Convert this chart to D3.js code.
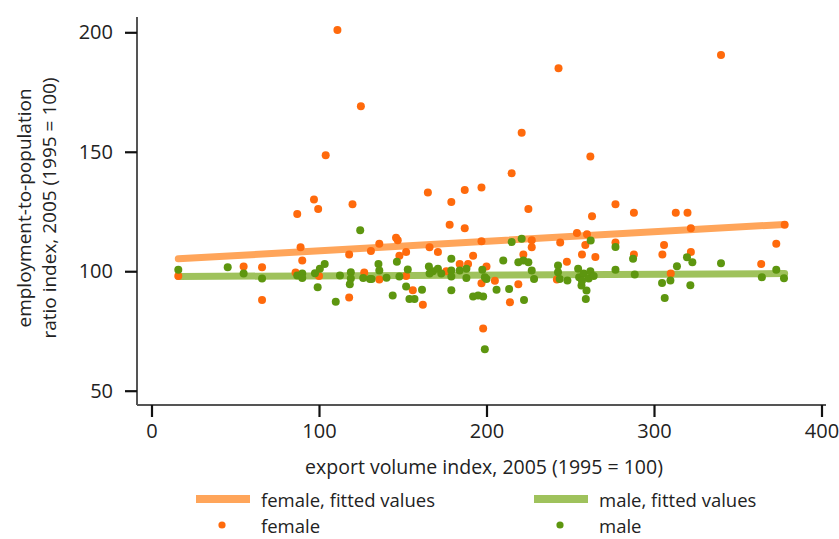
<!DOCTYPE html>
<html>
<head>
<meta charset="utf-8">
<script src="https://cdn.jsdelivr.net/npm/d3@7"></script>
<style>
  body { margin: 0; background: #fff; }
  svg text { font-family: "Open Sans", sans-serif; fill: #222; }
</style>
</head>
<body>
<div id="plot"></div>
<script>
// export volume index (x) vs employment-to-population ratio index (y)
const femaleX = [111, 125, 104, 243, 340, 221, 262, 215, 165, 187, 197, 179, 178, 187, 225, 263, 277, 288, 313, 320,
                 322, 378, 373, 364, 306, 305, 322, 310, 288, 277, 254, 260, 259, 257, 265, 244, 248, 242, 227, 227,
                 222, 219, 214, 198, 205, 192, 200, 197, 189, 184, 197, 171, 166, 152, 148, 147, 146, 136, 131, 136,
                 152, 156, 162, 176, 16, 55, 66, 66, 87, 97, 99.5, 120, 89, 90, 86, 118, 118, 127, 100];
const femaleY = [201, 169, 148.5, 185, 190.5, 158, 148, 141, 133, 134, 135, 129, 119.5, 118, 126, 123, 128, 124.5, 124.5, 124.5,
                 118, 119.5, 111.5, 103, 111, 107, 108, 99, 107, 112, 116, 115.5, 111, 107, 106, 112, 104, 96.5, 113, 110,
                 107, 94.5, 87, 76, 96, 106.5, 102, 95, 103, 103, 112.5, 108, 110, 108, 106.5, 113, 114, 111.5, 108.5, 96.5,
                 98, 92, 86, 100, 98, 102, 101.7, 88, 124, 130, 126, 128, 110, 104.5, 99.5, 107, 89, 99.5, 98];

const maleX = [16, 45.5, 55, 66, 87, 90, 90, 97.6, 100.5, 103.4, 99.2, 110, 124.6, 112.5, 119, 119, 118.4, 126.4, 130.4, 135.5,
               136, 131.4, 140.3, 146.5, 148, 153, 144, 152, 154, 157, 161.5, 165.6, 168, 171, 173, 166, 179, 179, 179, 179,
               184, 188, 188, 192, 195, 198, 197.5, 199, 199, 200, 206, 210, 215, 221, 219, 222, 225, 227, 228.4, 213.5,
               222.4, 242.7, 242.7, 243.7, 248.3, 254.7, 255.3, 256.7, 259.7, 259.3, 258, 261, 262, 264, 257, 262.2, 277, 277, 287.5, 288.5,
               313.7, 319.7, 322.9, 304.8, 309.8, 306.4, 321.7, 340, 364.4, 373, 377.6];
const maleY = [100.6, 101.7, 99, 97, 98.2, 99, 97.2, 99.2, 101, 103, 93.3, 87.2, 117.2, 98.2, 99.6, 97, 94.5, 97.2, 96.8, 103,
               100.3, 96.8, 97.3, 104, 97.8, 100.7, 89.8, 93.6, 88.4, 88.4, 92.3, 102, 100, 101, 99, 99, 105.2, 100.3, 97.8, 92,
               100.3, 101, 97.2, 89.4, 89.8, 89.4, 100.6, 97.5, 67.4, 96.8, 92.2, 104.5, 112.2, 113.6, 103.8, 104.5, 103.8, 100.3, 96.8, 92.6,
               88, 102.4, 99.6, 96.8, 96.1, 101, 97.5, 94, 91.9, 88.4, 99, 97, 100, 98, 96, 112.9, 110.1, 100.6, 105.2, 98.6,
               102.1, 105.9, 103.8, 95.1, 96.1, 88.8, 94.1, 103.3, 97.5, 100.6, 97.1];

// fitted values (end points of the linear fit)
const fitX = [16, 378];
const femaleFit = [105.2, 119.6];
const maleFit = [97.8, 99.0];

const xTicks = [0, 100, 200, 300, 400];
const yTicks = [50, 100, 150, 200];

const orange = "#ff6a0c";
const green = "#5d960f";
const orangeFit = "#ffa55a";
const greenFit = "#9fc25c";

const width = 839;
const height = 539;

const svg = d3.select("#plot").append("svg")
    .attr("width", width)
    .attr("height", height);

const x = d3.scaleLinear().domain([0, 400]).range([151.5, 821.5]);
const y = d3.scaleLinear().domain([50, 200]).range([390.7, 32.3]);

const axisX0 = 137, axisY0 = 405;

// axis lines
svg.append("line")
    .attr("x1", axisX0).attr("x2", axisX0)
    .attr("y1", 17).attr("y2", axisY0)
    .attr("stroke", "#555").attr("stroke-width", 2);
svg.append("line")
    .attr("x1", axisX0).attr("x2", 826)
    .attr("y1", axisY0).attr("y2", axisY0)
    .attr("stroke", "#555").attr("stroke-width", 2);

const yAxis = svg.append("g")
    .attr("transform", `translate(${axisX0},0)`)
    .call(d3.axisLeft(y).tickValues(yTicks).tickSize(12).tickPadding(12));
const xAxis = svg.append("g")
    .attr("transform", `translate(0,${axisY0})`)
    .call(d3.axisBottom(x).tickValues(xTicks).tickSize(12).tickPadding(7));

[xAxis, yAxis].forEach(g => {
  g.select(".domain").remove();
  g.selectAll(".tick line").attr("stroke", "#111").attr("stroke-width", 2.2);
  g.selectAll(".tick text").style("font-size", "20px").attr("fill", "#222");
});

// axis titles
svg.append("text")
    .attr("x", 484).attr("y", 466)
    .attr("text-anchor", "middle")
    .attr("dominant-baseline", "central")
    .style("font-size", "19.5px")
    .text("export volume index, 2005 (1995 = 100)");

const yTitle = svg.append("text")
    .attr("transform", "translate(0,208) rotate(-90)")
    .attr("text-anchor", "middle")
    .style("font-size", "19px");
yTitle.append("tspan").attr("x", 0).attr("y", 31).text("employment-to-population");
yTitle.append("tspan").attr("x", 0).attr("y", 56).text("ratio index, 2005 (1995 = 100)");

// fitted lines
const fitLine = vals => d3.line()
    .x((d, i) => x(fitX[i]))
    .y(d => y(d))(vals);

svg.append("path")
    .attr("d", fitLine(femaleFit))
    .attr("fill", "none")
    .attr("stroke", orangeFit)
    .attr("stroke-width", 7)
    .attr("stroke-linecap", "round");
svg.append("path")
    .attr("d", fitLine(maleFit))
    .attr("fill", "none")
    .attr("stroke", greenFit)
    .attr("stroke-width", 7)
    .attr("stroke-linecap", "round");

// scatter points
svg.append("g").selectAll("circle")
    .data(femaleX.map((v, i) => [v, femaleY[i]]))
    .join("circle")
    .attr("cx", d => x(d[0]))
    .attr("cy", d => y(d[1]))
    .attr("r", 4)
    .attr("fill", orange);

svg.append("g").selectAll("circle")
    .data(maleX.map((v, i) => [v, maleY[i]]))
    .join("circle")
    .attr("cx", d => x(d[0]))
    .attr("cy", d => y(d[1]))
    .attr("r", 4)
    .attr("fill", green);

// legend
const legendItems = [
  {label: "female, fitted values", type: "line", color: orangeFit, x: 196, y: 499},
  {label: "male, fitted values", type: "line", color: greenFit, x: 534, y: 499},
  {label: "female", type: "dot", color: orange, x: 196, y: 525},
  {label: "male", type: "dot", color: green, x: 534, y: 525}
];

const legend = svg.append("g").selectAll("g")
    .data(legendItems)
    .join("g")
    .attr("transform", d => `translate(${d.x},${d.y})`);

legend.filter(d => d.type === "line").append("rect")
    .attr("x", 0).attr("y", -4)
    .attr("width", 54).attr("height", 8)
    .attr("fill", d => d.color);
legend.filter(d => d.type === "dot").append("circle")
    .attr("cx", 26).attr("cy", 0).attr("r", 3.6)
    .attr("fill", d => d.color);
legend.append("text")
    .attr("x", 65)
    .attr("dominant-baseline", "central")
    .style("font-size", "18.5px")
    .text(d => d.label);
</script>
</body>
</html>
